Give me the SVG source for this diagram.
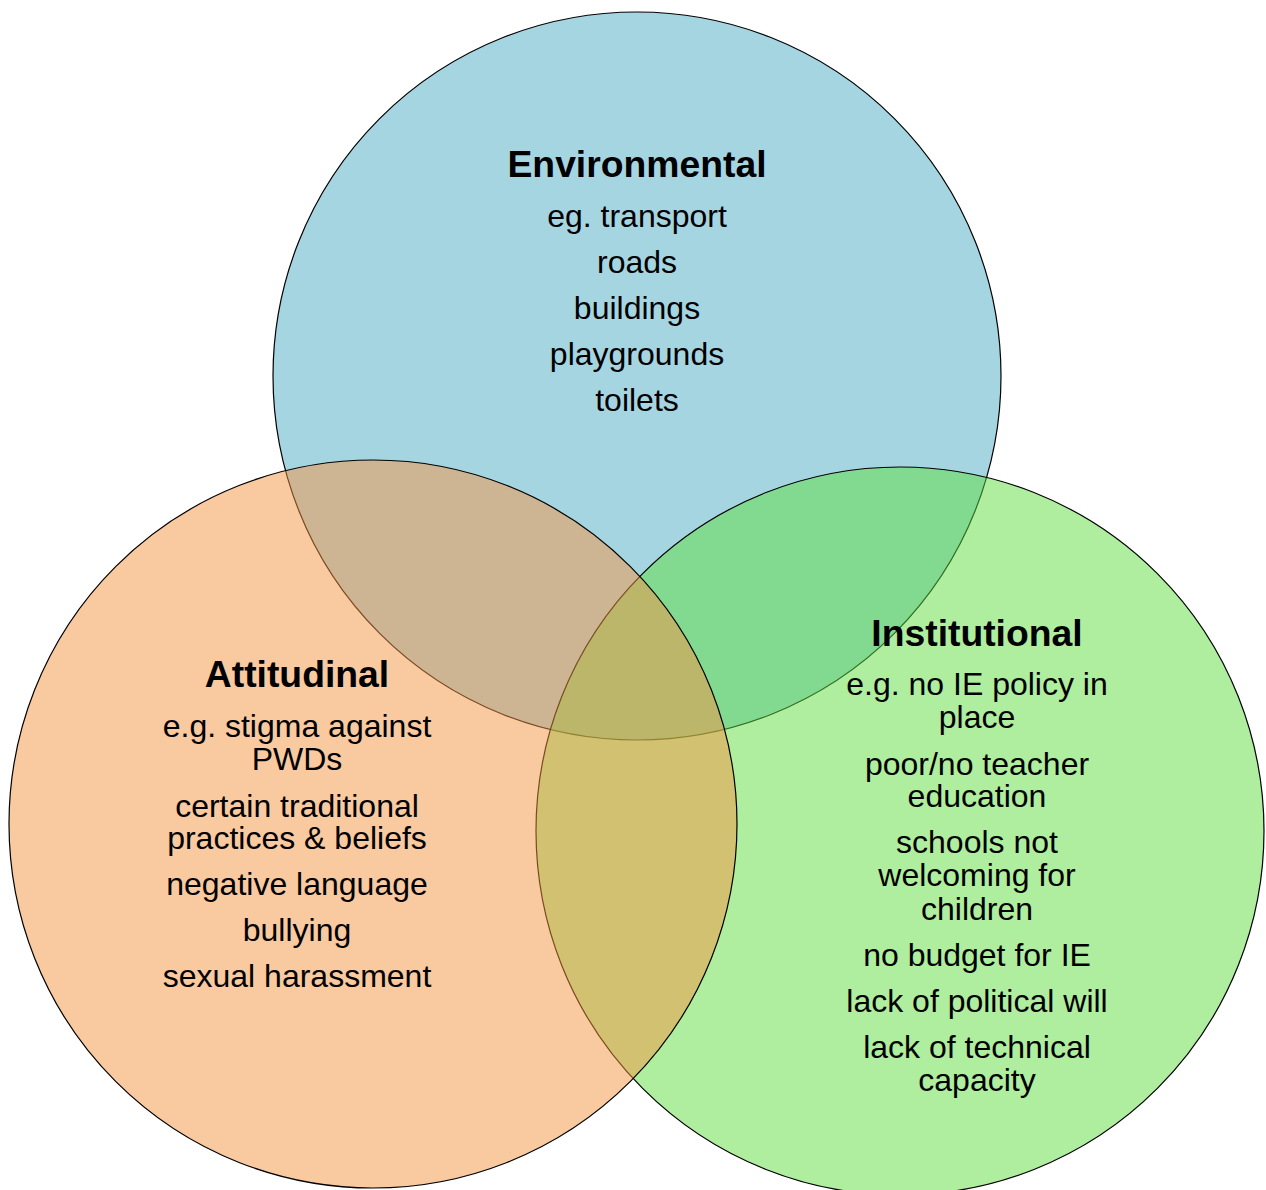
<svg xmlns="http://www.w3.org/2000/svg" width="1266" height="1190" viewBox="0 0 1266 1190">
<style>
.c{stroke:#000;stroke-width:1.2;fill-opacity:0.5}
.t{font-family:"Liberation Sans",Arial,sans-serif;font-size:37.3px;font-weight:bold;fill:#000;text-anchor:middle}
.b{font-family:"Liberation Sans",Arial,sans-serif;font-size:32px;fill:#000;text-anchor:middle}
</style>
<rect width="1266" height="1190" fill="#fff"/>
<g id="environmental">
<circle class="c" cx="637" cy="376" r="364" fill="#4dabc5"/>
</g>
<g id="institutional">
<circle class="c" cx="900" cy="831" r="364" fill="#5ddd3d"/>
</g>
<g id="attitudinal">
<circle class="c" cx="373" cy="824" r="364" fill="#f39341"/>
</g>
<g id="connectors"></g>
<g id="environmental-text">
<text class="t" x="637" y="177">Environmental</text>
<text class="b" x="637" y="227">eg. transport</text>
<text class="b" x="637" y="273">roads</text>
<text class="b" x="637" y="319">buildings</text>
<text class="b" x="637" y="365">playgrounds</text>
<text class="b" x="637" y="411">toilets</text>
</g>
<g id="attitudinal-text">
<text class="t" x="297" y="687">Attitudinal</text>
<text class="b" x="297" y="737">e.g. stigma against</text>
<text class="b" x="297" y="770">PWDs</text>
<text class="b" x="297" y="817">certain traditional</text>
<text class="b" x="297" y="849">practices &amp; beliefs</text>
<text class="b" x="297" y="895">negative language</text>
<text class="b" x="297" y="941">bullying</text>
<text class="b" x="297" y="987">sexual harassment</text>
</g>
<g id="institutional-text">
<text class="t" x="977" y="646">Institutional</text>
<text class="b" x="977" y="695">e.g. no IE policy in</text>
<text class="b" x="977" y="728">place</text>
<text class="b" x="977" y="775">poor/no teacher</text>
<text class="b" x="977" y="807">education</text>
<text class="b" x="977" y="853">schools not</text>
<text class="b" x="977" y="886">welcoming for</text>
<text class="b" x="977" y="920">children</text>
<text class="b" x="977" y="966">no budget for IE</text>
<text class="b" x="977" y="1012">lack of political will</text>
<text class="b" x="977" y="1058">lack of technical</text>
<text class="b" x="977" y="1091">capacity</text>
</g>
</svg>
